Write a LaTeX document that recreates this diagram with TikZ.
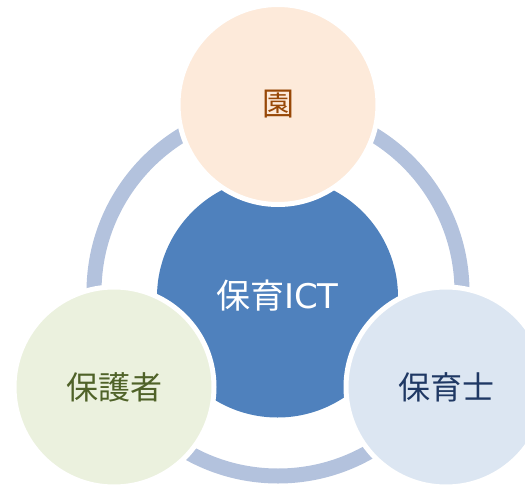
\documentclass[tikz,border=0pt]{standalone}
\usepackage{fontspec}
\newfontfamily\jpfont{Noto Sans CJK JP}
\newfontfamily\latfont{DejaVu Sans}
\definecolor{ringc}{HTML}{B3C2DD}
\definecolor{centerc}{HTML}{4F81BD}
\definecolor{topc}{HTML}{FDEADA}
\definecolor{leftc}{HTML}{EBF1DE}
\definecolor{rightc}{HTML}{DCE6F2}
\definecolor{toptext}{HTML}{984807}
\definecolor{lefttext}{HTML}{4F6228}
\definecolor{righttext}{HTML}{1F3864}
\tikzset{
  outer/.style={circle, draw=white, line width=5pt, minimum size=200pt, inner sep=0pt,
    font=\jpfont\fontsize{32}{38}\selectfont},
  hub/.style={circle, fill=centerc, minimum size=241pt, inner sep=0pt, text=white,
    font=\jpfont\fontsize{34}{38}\selectfont},
  ringline/.style={draw=ringc, line width=15pt}
}
\begin{document}
\begin{tikzpicture}[x=1pt,y=-1pt]
\useasboundingbox (0,0) rectangle (525,485);
\coordinate (rc) at (278,292);
\draw[ringline] (rc) circle[radius=184];
\node[hub] (ict) at (277.5,297) {\raisebox{5pt}{保育{\latfont ICT}}};
\node[outer, fill=topc, text=toptext] (en) at (278,104.5) {園};
\node[outer, fill=leftc, text=lefttext] (hogosha) at (114,387) {保護者};
\node[outer, fill=rightc, text=righttext] (hoikushi) at (446,387) {保育士};
\end{tikzpicture}
\end{document}
